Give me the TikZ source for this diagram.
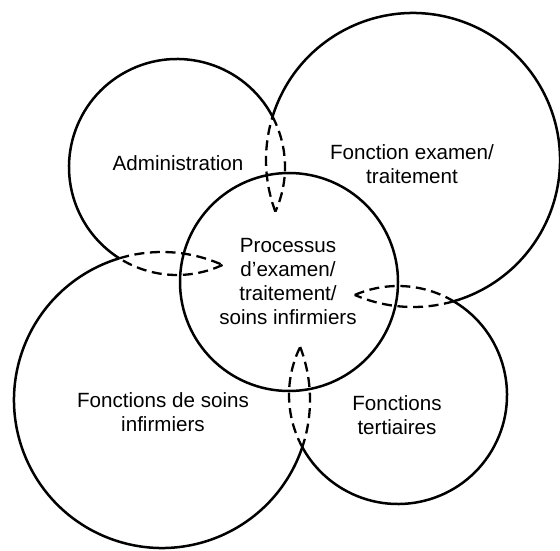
\documentclass[tikz,border=0pt]{standalone}
\usepackage{fontspec}
\setmainfont{Liberation Sans}
\begin{document}
\begin{tikzpicture}[
  x=0.5pt, y=-0.5pt,
  zone/.style = {line width=1.25pt, black},
  overlap/.style = {line width=1.15pt, black, dash pattern=on 5pt off 2.8pt},
  zonelbl/.style = {font=\fontsize{10.3}{12}\selectfont, align=center, inner sep=0pt}
]
  \useasboundingbox (0,0) rectangle (560,550);
  % centres des cercles
  \coordinate (cAdm) at (177,167);
  \coordinate (cExam) at (413,160);
  \coordinate (cProc) at (289,282);
  \coordinate (cSoins) at (162,400);
  \coordinate (cTert) at (398,395);
  % processus central
  \draw[zone] (cProc) circle[radius=54.5pt];
  % contours exterieurs
  \draw[zone] (cAdm) ++(27.8:54pt) arc[start angle=27.8, end angle=237.71, radius=54pt];
  \draw[zone] (cExam) ++(162.84:73.5pt) arc[start angle=162.84, end angle=-73.94, radius=73.5pt];
  \draw[zone] (cTert) ++(59.3:54.5pt) arc[start angle=59.3, end angle=-151.41, radius=54.5pt];
  \draw[zone] (cSoins) ++(-18.58:74pt) arc[start angle=-18.58, end angle=-253.23, radius=74pt];
  % zones de recouvrement
  \draw[overlap] (cAdm) ++(27.8:54pt) arc[start angle=27.8, end angle=-24.39, radius=54pt];
  \draw[overlap] (cExam) ++(200.55:73.5pt) arc[start angle=200.55, end angle=162.84, radius=73.5pt];
  \draw[overlap] (cAdm) ++(-65.07:54pt) arc[start angle=-65.07, end angle=-122.29, radius=54pt];
  \draw[overlap] (cSoins) ++(106.77:74pt) arc[start angle=106.77, end angle=65.87, radius=74pt];
  \draw[overlap] (cExam) ++(-73.94:73.5pt) arc[start angle=-73.94, end angle=-113.36, radius=73.5pt];
  \draw[overlap] (cTert) ++(113.39:54.5pt) arc[start angle=113.39, end angle=59.3, radius=54.5pt];
  \draw[overlap] (cSoins) ++(21:74pt) arc[start angle=21, end angle=-18.58, radius=74pt];
  \draw[overlap] (cTert) ++(-151.41:54.5pt) arc[start angle=-151.41, end angle=-206.16, radius=54.5pt];
  % libelles
  \node[zonelbl] (adm) at (178,163) {Administration};
  \node[zonelbl] (exam) at (412,164) {Fonction examen/\\traitement};
  \node[zonelbl] (proc) at (288,282) {Processus\\d’examen/\\traitement/\\soins infirmiers};
  \node[zonelbl] (soins) at (163,412) {Fonctions de soins\\infirmiers};
  \node[zonelbl] (tert) at (397,415) {Fonctions\\tertiaires};
\end{tikzpicture}
\end{document}
